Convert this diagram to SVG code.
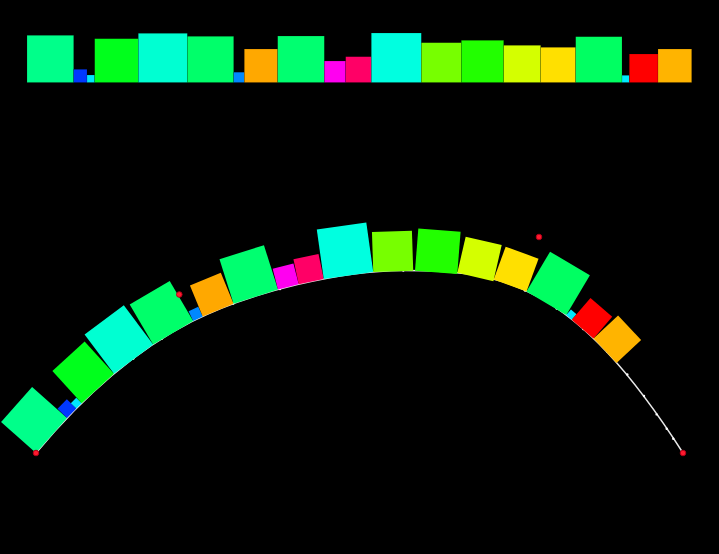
<svg xmlns="http://www.w3.org/2000/svg" width="719" height="554" viewBox="0 0 719 554">
<style>
.bar{stroke:#000;stroke-opacity:0.25;stroke-width:0.6}
.c1{fill:#00ff8a}.c2{fill:#0038ff}.c3{fill:#00e6ff}.c4{fill:#00ff1c}.c5{fill:#00ffd2}
.c6{fill:#00ff6a}.c7{fill:#0088ff}.c8{fill:#ffa800}.c9{fill:#00ff70}.c10{fill:#ff00f0}
.c11{fill:#ff0066}.c12{fill:#00ffe0}.c13{fill:#77ff00}.c14{fill:#22ff00}.c15{fill:#d4ff00}
.c16{fill:#ffe000}.c17{fill:#00ff62}.c18{fill:#00eaff}.c19{fill:#ff0000}.c20{fill:#ffb400}
.curve{fill:none;stroke:#e8e8e8;stroke-width:1.5}
.pt{fill:#ffffff}
.ctrl{fill:#ff1a2e;stroke:#b00018;stroke-width:1}
</style>
<rect x="0" y="0" width="719" height="554" fill="#000"/>
<g id="bars">
<rect class="bar c1" x="27" y="35.3" width="46.7" height="47.2"/>
<rect class="bar c2" x="73.7" y="69.3" width="13.3" height="13.2"/>
<rect class="bar c3" x="87" y="75" width="7.7" height="7.5"/>
<rect class="bar c4" x="94.7" y="38.7" width="43.6" height="43.8"/>
<rect class="bar c5" x="138.3" y="33.3" width="49" height="49.2"/>
<rect class="bar c6" x="187.3" y="36.3" width="46.4" height="46.2"/>
<rect class="bar c7" x="233.7" y="72.2" width="10.6" height="10.3"/>
<rect class="bar c8" x="244.3" y="49" width="33.4" height="33.5"/>
<rect class="bar c9" x="277.7" y="36" width="46.6" height="46.5"/>
<rect class="bar c10" x="324.3" y="61" width="21.4" height="21.5"/>
<rect class="bar c11" x="345.7" y="56.7" width="25.6" height="25.8"/>
<rect class="bar c12" x="371.3" y="33" width="50" height="49.5"/>
<rect class="bar c13" x="421.3" y="42.7" width="40" height="39.8"/>
<rect class="bar c14" x="461.3" y="40.3" width="42.4" height="42.2"/>
<rect class="bar c15" x="503.7" y="45.3" width="37" height="37.2"/>
<rect class="bar c16" x="540.7" y="47.3" width="35" height="35.2"/>
<rect class="bar c17" x="575.7" y="36.7" width="46.3" height="45.8"/>
<rect class="bar c18" x="622" y="75.3" width="7.3" height="7.2"/>
<rect class="bar c19" x="629.3" y="54" width="28.7" height="28.5"/>
<rect class="bar c20" x="658" y="49" width="33.7" height="33.5"/>
</g>
<g id="connectors">
<path class="curve" d="M36,453 C88,390.6 139.7,348.17 191.7,321.65 C251.7,291.05 343,270.5 403,270.5 C503,270.5 573,281.4 683,453"/>
<g id="curve-points">
<circle class="pt" cx="133.3" cy="358.6" r="1.2"/>
<circle class="pt" cx="161.7" cy="338.8" r="1.2"/>
<circle class="pt" cx="233.3" cy="303.6" r="1.2"/>
<circle class="pt" cx="280" cy="289" r="1.2"/>
<circle class="pt" cx="403.3" cy="270.5" r="1.2"/>
<circle class="pt" cx="446.7" cy="271.8" r="1.2"/>
<circle class="pt" cx="490" cy="278.6" r="1.2"/>
<circle class="pt" cx="525" cy="290.6" r="1.2"/>
<circle class="pt" cx="556.7" cy="308.6" r="1.2"/>
<circle class="pt" cx="583.3" cy="329" r="1.2"/>
<circle class="pt" cx="607.3" cy="351.6" r="1.2"/>
<circle class="pt" cx="627.3" cy="374.4" r="1.2"/>
<circle class="pt" cx="644" cy="396" r="1.2"/>
<circle class="pt" cx="656.7" cy="414.4" r="1.2"/>
<circle class="pt" cx="666.7" cy="428.8" r="1.2"/>
<circle class="pt" cx="673.3" cy="438.8" r="1.2"/>
</g>
</g>
<g id="squares">
<g id="sq1"><rect class="c1" x="0" y="-46.7" width="46.7" height="46.7" transform="translate(36,453) rotate(-48.39)"/></g>
<g id="sq2"><rect class="c2" x="0" y="-13.3" width="13.3" height="13.3" transform="translate(67,418.09) rotate(-45.46)"/></g>
<g id="sq3"><rect class="c3" x="0" y="-7.7" width="7.7" height="7.7" transform="translate(76.33,408.61) rotate(-45.37)"/></g>
<g id="sq4"><rect class="c4" x="0" y="-43.6" width="43.6" height="43.6" transform="translate(81.74,403.13) rotate(-42.32)"/></g>
<g id="sq5"><rect class="c5" x="0" y="-49" width="49" height="49" transform="translate(113.97,373.78) rotate(-36.83)"/></g>
<g id="sq6"><rect class="c6" x="0" y="-46.4" width="46.4" height="46.4" transform="translate(153.17,344.43) rotate(-30.41)"/></g>
<g id="sq7"><rect class="c7" x="0" y="-10.6" width="10.6" height="10.6" transform="translate(193.16,320.96) rotate(-25.21)"/></g>
<g id="sq8"><rect class="c8" x="0" y="-33.4" width="33.4" height="33.4" transform="translate(202.74,316.45) rotate(-22.53)"/></g>
<g id="sq9"><rect class="c9" x="0" y="-46.6" width="46.6" height="46.6" transform="translate(233.58,303.66) rotate(-17.58)"/></g>
<g id="sq10"><rect class="c10" x="0" y="-21.4" width="21.4" height="21.4" transform="translate(277.98,289.59) rotate(-14.31)"/></g>
<g id="sq11"><rect class="c11" x="0" y="-25.6" width="25.6" height="25.6" transform="translate(298.72,284.3) rotate(-11.91)"/></g>
<g id="sq12"><rect class="c12" x="0" y="-50" width="50" height="50" transform="translate(323.76,279.02) rotate(-8.02)"/></g>
<g id="sq13"><rect class="c13" x="0" y="-40" width="40" height="40" transform="translate(373.25,272.05) rotate(-1.87)"/></g>
<g id="sq14"><rect class="c14" x="0" y="-42.4" width="42.4" height="42.4" transform="translate(415,270.69) rotate(4.5)"/></g>
<g id="sq15"><rect class="c15" x="0" y="-37" width="37" height="37" transform="translate(457.34,272.81) rotate(13)"/></g>
<g id="sq16"><rect class="c16" x="0" y="-35" width="35" height="35" transform="translate(493.66,279.53) rotate(20.05)"/></g>
<g id="sq17"><rect class="c17" x="0" y="-46.3" width="46.3" height="46.3" transform="translate(526.46,291.5) rotate(30.63)"/></g>
<g id="sq18"><rect class="c18" x="0" y="-7.3" width="7.3" height="7.3" transform="translate(566.21,315.04) rotate(40.55)"/></g>
<g id="sq19"><rect class="c19" x="0" y="-28.7" width="28.7" height="28.7" transform="translate(571.75,319.78) rotate(40.75)"/></g>
<g id="sq20"><rect class="c20" x="0" y="-33.7" width="33.7" height="33.7" transform="translate(593.49,338.51) rotate(46.86)"/></g>
</g>
<g id="control-points">
<circle class="ctrl" cx="36" cy="453" r="2.8"/>
<circle class="ctrl" cx="179.3" cy="294.5" r="2.8"/>
<circle class="ctrl" cx="539" cy="237" r="2.8"/>
<circle class="ctrl" cx="683" cy="453" r="2.8"/>
</g>
</svg>
